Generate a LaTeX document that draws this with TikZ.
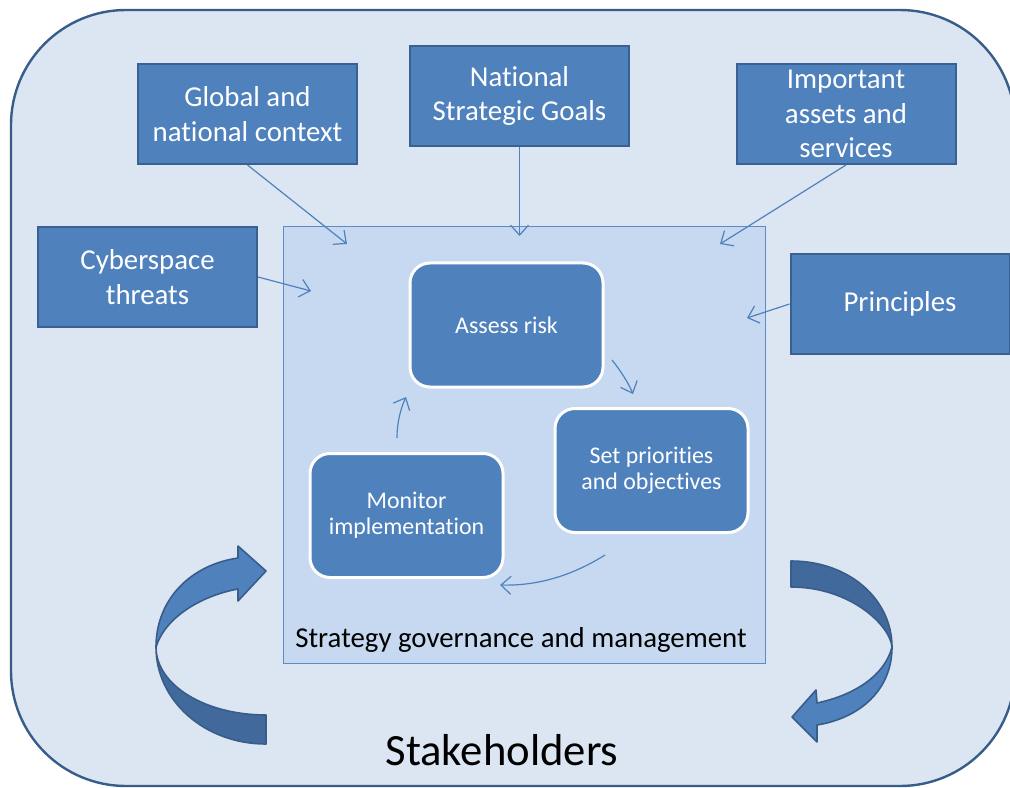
\documentclass[tikz,border=0pt]{standalone}
\usepackage{fontspec}
\setmainfont{Carlito}[Ligatures={NoCommon,NoDiscretionary}]
\usetikzlibrary{arrows.meta}

\definecolor{bgfill}{HTML}{DCE6F2}
\definecolor{bgline}{HTML}{385D8A}
\definecolor{boxfill}{HTML}{4F81BD}
\definecolor{boxline}{HTML}{3A6194}
\definecolor{panelfill}{HTML}{C6D9F1}
\definecolor{panelline}{HTML}{5B8BCB}
\definecolor{ribbondark}{HTML}{41699C}

\begin{document}
\begin{tikzpicture}
	[x=0.25mm, y=-0.25mm,
	topic/.style={draw=boxline, line width=0.5mm, fill=boxfill, text=white, inner sep=0pt,
		minimum width=54.75mm, minimum height=25mm, align=center,
		font=\fontsize{20.5}{24.5}\selectfont},
	step box/.style={draw=white, line width=0.75mm, fill=boxfill, text=white, inner sep=0pt,
		rounded corners=5mm, minimum width=48.25mm, minimum height=31mm, align=center,
		font=\fontsize{17}{18.5}\selectfont},
	feed/.style={draw=boxfill, line width=0.3mm, -{Straight Barb[length=2.5mm,width=4.5mm]}},
	ribbon/.style={draw=bgline, line width=0.4mm, line join=round}]

	\useasboundingbox (0,0) rectangle (1010,788);

	% Draw background
	\draw[fill=bgfill, draw=bgline, line width=0.6mm, rounded corners=28.75mm]
		(11,10) rectangle (1015,786);
	\node[font=\fontsize{31.8}{36}\selectfont] (stake) at (502,750) {Stakeholders};

	% Draw governance panel
	\draw[fill=panelfill, draw=panelline, line width=0.25mm] (283,227) rectangle (765,663);
	\node[font=\fontsize{20.5}{22}\selectfont] (govern) at (521,640) {Strategy governance and management};

	% Create inputs
	\node[topic] (global) at (247.5,114) {Global and\\national context};
	\node[topic] (goals) at (519.5,96) {National\\Strategic Goals};
	\node[topic] (assets) at (846,114) {Important\\assets and\\services};
	\node[topic] (threats) at (147.5,277) {Cyberspace\\threats};
	\node[topic] (princ) at (900,304) {Principles};

	% Create cycle
	\node[step box] (assess) at (506.5,325) {Assess risk};
	\node[step box] (prior) at (651.5,470.5) {Set priorities\\and objectives};
	\node[step box] (monitor) at (406.5,515.5) {Monitor\\implementation};

	% Draw inputs
	\coordinate (G) at (347,244);
	\coordinate (N) at (519.5,236);
	\coordinate (I) at (720,244);
	\coordinate (T) at (311,291);
	\coordinate (P) at (747,318);

	\draw[feed] (global.south) -- (G);
	\draw[feed] (goals.south) -- (N);
	\draw[feed] (assets.south) -- (I);
	\draw[feed] (threats.east) -- (T);
	\draw[feed] (princ.west) -- (P);

	% Draw cycle arrows
	\coordinate (A1) at (612,360);
	\coordinate (A2) at (633,394);
	\coordinate (S1) at (605,555);
	\coordinate (S2) at (500,585);
	\coordinate (M1) at (397,438);
	\coordinate (M2) at (406,397);

	\draw[feed] (A1) .. controls (620,370) and (628,382) .. (A2);
	\draw[feed] (S1) .. controls (570,577) and (535,586) .. (S2);
	\draw[feed] (M1) .. controls (397,424) and (400,410) .. (M2);

	% Left ribbon
	\fill[ribbondark, ribbon] (156,647) .. controls (156,701) and (205,744) .. (266,744)
		-- (266,715) .. controls (205,715) and (156,685) .. cycle;
	\fill[boxfill, ribbon] (156,647) .. controls (156,600) and (190,565) .. (238,558)
		-- (238,546) -- (266,571) -- (238,601) -- (238,589)
		.. controls (200,596) and (165,618) .. cycle;

	% Right ribbon
	\fill[ribbondark, ribbon] (791,561) .. controls (850,561) and (892,600) .. (892,647)
		.. controls (890,625) and (850,587) .. (791,587) -- cycle;
	\fill[boxfill, ribbon] (892,647) .. controls (892,690) and (860,718) .. (817,725)
		-- (817,742) -- (792,717) -- (816,690) -- (817,703)
		.. controls (855,695) and (885,675) .. cycle;

\end{tikzpicture}
\end{document}
